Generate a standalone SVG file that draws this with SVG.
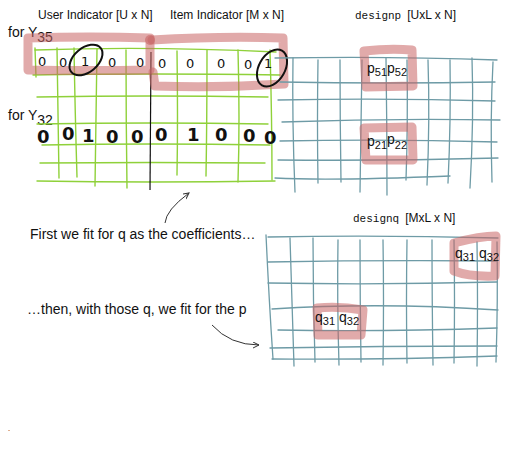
<svg xmlns="http://www.w3.org/2000/svg" width="506" height="461" viewBox="0 0 506 461">
<style>
.lbl{font-family:"Liberation Sans",Arial,sans-serif;font-size:12px;fill:#111}
.txt{font-family:"Liberation Sans",Arial,sans-serif;font-size:14px;fill:#111}
.mono{font-family:"Liberation Mono","Courier New",monospace;font-size:11px;fill:#111}
.g{stroke:#8fd13a;stroke-width:1.4;fill:none;stroke-linecap:round}
.b{stroke:#6e9ba6;stroke-width:1.3;fill:none;stroke-linecap:round}
.hl{stroke:#c86464;stroke-opacity:0.55;stroke-width:9;fill:none;stroke-linejoin:round;stroke-linecap:round}
.d1{font-family:"DejaVu Sans",sans-serif;font-size:13px;fill:#111}
.d2{font-family:"DejaVu Sans",sans-serif;font-size:18px;font-weight:bold;fill:#111}
.circ{stroke:#111;stroke-width:2;fill:none}
.arr{stroke:#333;stroke-width:1;fill:none}
.s{font-size:11px}
</style>
<defs>
<marker id="ah" markerWidth="8" markerHeight="8" refX="6" refY="3" orient="auto" markerUnits="userSpaceOnUse">
<path d="M0,0 L6,3 L0,6" fill="none" stroke="#333" stroke-width="1"/>
</marker>
</defs>

<g id="titles">
<text class="lbl" x="38" y="19">User Indicator [U x N]</text>
<text class="lbl" x="170" y="19">Item Indicator [M x N]</text>
<text x="355" y="19"><tspan class="mono">designp</tspan><tspan class="lbl" dx="6">[UxL x N]</tspan></text>
<text x="353" y="222"><tspan class="mono">designq</tspan><tspan class="lbl" dx="6">[MxL x N]</tspan></text>
<text class="txt" x="8" y="37" font-size="13px">for Y<tspan dy="5">35</tspan></text>
<text class="txt" x="8" y="120">for Y<tspan dy="5">32</tspan></text>
<text class="txt" x="30" y="239">First we fit for q as the coefficients…</text>
<text class="txt" x="27" y="314">…then, with those q, we fit for the p</text>
</g>

<g id="indicator-grid">
<path class="g" d="M35,50 Q150,46 276,52"/>
<path class="g" d="M33,75 Q150,73 280,75"/>
<path class="g" d="M37,97 Q150,95 268,97"/>
<path class="g" d="M37,124 Q150,122 268,124"/>
<path class="g" d="M42,145 Q150,143 270,145"/>
<path class="g" d="M40,163 Q150,162 265,163"/>
<path class="g" d="M37,181 Q150,183 275,181"/>
<path class="g" d="M35,48 L36,77"/>
<path class="g" d="M57,48 Q58,110 59,178"/>
<path class="g" d="M74,48 Q75,110 77,177"/>
<path class="g" d="M97,49 Q96,120 95,186"/>
<path class="g" d="M126,50 Q126,120 127,188"/>
<path class="g" d="M177,51 Q178,120 177,175"/>
<path class="g" d="M207,50 Q207,120 206,176"/>
<path class="g" d="M238,50 Q240,120 238,182"/>
<path class="g" d="M270,50 Q272,120 272,180"/>
<path d="M151,52 L150,190" stroke="#111" stroke-width="1.2" fill="none"/>
</g>

<g id="highlight-y35">
<path class="hl" d="M28,38 Q90,36 150,38 L150,70 Q90,71 28,70 Z"/>
<path class="hl" d="M152,40 Q220,36 283,38 L284,84 Q220,88 155,86 L153,72"/>
<circle cx="150" cy="40" r="5" fill="#c86464" fill-opacity="0.6"/>
</g>

<g id="digits">
<text class="d1" x="38" y="66">0</text>
<text class="d1" x="59" y="67">0</text>
<text class="d1" x="81" y="66">1</text>
<text class="d1" x="108" y="67">0</text>
<text class="d1" x="136" y="67">0</text>
<text class="d1" x="158" y="68">0</text>
<text class="d1" x="186" y="68">0</text>
<text class="d1" x="217" y="68">0</text>
<text class="d1" x="244" y="69">0</text>
<text class="d1" x="264" y="68">1</text>
<ellipse class="circ" cx="86" cy="60" rx="19" ry="12" transform="rotate(-40 86 60)"/>
<ellipse class="circ" cx="272" cy="68" rx="20" ry="13" transform="rotate(-60 272 68)"/>
<text class="d2" x="37" y="143">0</text>
<text class="d2" x="62" y="140">0</text>
<text class="d2" x="82" y="142">1</text>
<text class="d2" x="106" y="143">0</text>
<text class="d2" x="131" y="143">0</text>
<text class="d2" x="155" y="141">0</text>
<text class="d2" x="187" y="141">1</text>
<text class="d2" x="215" y="141">0</text>
<text class="d2" x="243" y="142">0</text>
<text class="d2" x="264" y="144">0</text>
</g>

<g id="designp">
<path class="b" d="M275,58 Q390,56 497,60"/>
<path class="b" d="M280,82 Q390,84 495,82"/>
<path class="b" d="M278,100 Q390,98 495,101"/>
<path class="b" d="M282,122 Q390,118 500,120"/>
<path class="b" d="M280,141 Q390,139 497,142"/>
<path class="b" d="M278,160 Q390,161 498,158"/>
<path class="b" d="M275,178 Q330,181 450,176"/>
<path class="b" d="M293,58 Q292,120 295,192"/>
<path class="b" d="M318,60 Q317,120 318,183"/>
<path class="b" d="M340,60 Q340,120 341,182"/>
<path class="b" d="M362,60 Q361,125 360,192"/>
<path class="b" d="M386,58 Q387,125 387,195"/>
<path class="b" d="M407,60 Q408,125 406,180"/>
<path class="b" d="M428,60 Q430,120 427,185"/>
<path class="b" d="M450,60 Q451,120 448,183"/>
<path class="b" d="M472,58 Q474,120 470,188"/>
<path class="b" d="M493,62 Q490,120 492,182"/>
<path class="hl" d="M364,51 Q390,48 412,50 L413,86 L366,87 Z"/>
<path class="hl" d="M364,128 L412,127 L413,160 L366,160 Z"/>
<text class="txt" x="367" y="73" font-size="13px">p<tspan class="s" dy="3">51</tspan><tspan dy="-3">p</tspan><tspan class="s" dy="3">52</tspan></text>
<text class="txt" x="367" y="146" font-size="13px">p<tspan class="s" dy="3">21</tspan><tspan dy="-5">p</tspan><tspan class="s" dy="5">22</tspan></text>
</g>

<g id="designq">
<path class="b" d="M268,237 Q380,235 498,238"/>
<path class="b" d="M268,262 Q380,260 497,261"/>
<path class="b" d="M268,283 Q380,285 497,282"/>
<path class="b" d="M272,309 Q380,302 498,310"/>
<path class="b" d="M278,330 Q380,332 497,328"/>
<path class="b" d="M270,348 Q380,346 497,346"/>
<path class="b" d="M272,359 Q380,360 497,356"/>
<path class="b" d="M266,235 Q269,300 273,359"/>
<path class="b" d="M290,238 Q292,300 294,366"/>
<path class="b" d="M313,238 Q313,300 315,362"/>
<path class="b" d="M338,240 Q337,300 339,365"/>
<path class="b" d="M360,240 Q360,300 361,362"/>
<path class="b" d="M383,240 Q384,300 383,365"/>
<path class="b" d="M407,240 Q406,300 407,363"/>
<path class="b" d="M432,240 Q432,300 433,365"/>
<path class="b" d="M454,240 Q455,300 454,363"/>
<path class="b" d="M477,242 Q478,300 477,366"/>
<path class="b" d="M497,242 Q498,300 496,362"/>
<path class="hl" d="M454,243 Q480,236 496,236 L495,276 Q470,277 454,271 Z"/>
<path class="hl" d="M317,308 Q340,306 363,310 L361,335 L318,335 Z"/>
<text class="txt" x="455" y="258" font-size="13px">q<tspan class="s" dy="3">31</tspan><tspan dx="4" dy="-3">q</tspan><tspan class="s" dy="3">32</tspan></text>
<text class="txt" x="315" y="322" font-size="13px">q<tspan class="s" dy="3">31</tspan><tspan dx="4" dy="-3">q</tspan><tspan class="s" dy="3">32</tspan></text>
</g>

<g id="connectors">
<path class="arr" d="M165,223 Q166,210 189,193" marker-end="url(#ah)"/>
<path class="arr" d="M212,325 Q230,345 259,345" marker-end="url(#ah)"/>
</g>

<rect x="8" y="430" width="2" height="1" fill="#e0b090"/>
</svg>
